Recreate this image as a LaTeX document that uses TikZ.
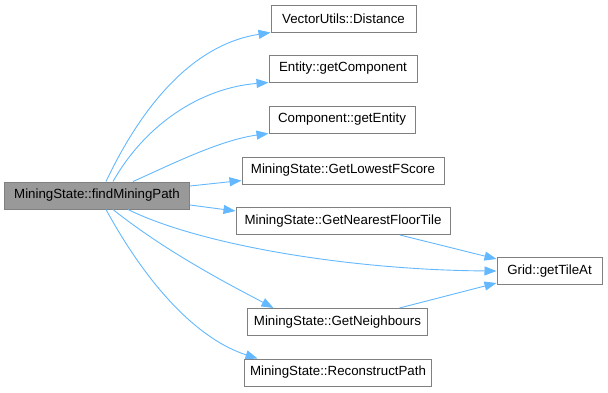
\documentclass[tikz,border=0pt]{standalone}
\usepackage{fontspec}
\setmainfont{Liberation Sans}
\usetikzlibrary{arrows.meta}

\definecolor{edgeblue}{HTML}{63B8FF}
\definecolor{boxline}{HTML}{808080}
\definecolor{mainfill}{HTML}{999999}

\begin{document}
\begin{tikzpicture}[x=1pt, y=-1pt,
    every node/.style={font=\fontsize{13.3}{16}\selectfont},
    fn/.style={draw=boxline, fill=white, line width=1pt, minimum height=27pt, inner xsep=6pt, inner ysep=0pt},
    edge/.style={draw=edgeblue, line width=0.9pt, -{Triangle[length=12pt,width=9pt]}}]
  \useasboundingbox (0,0) rectangle (608,392);

  % caller
  \node[fn, fill=mainfill, minimum width=185pt] (main) at (97,195.5) {MiningState::findMiningPath};

  % callees
  \node[fn, minimum width=145pt] (dist) at (343.5,18.5) {VectorUtils::Distance};
  \node[fn, minimum width=148pt] (comp) at (343,68.5) {Entity::getComponent};
  \node[fn, minimum width=146pt] (ent) at (342,119.5) {Component::getEntity};
  \node[fn, minimum width=202pt] (lowest) at (343,170.5) {MiningState::GetLowestFScore};
  \node[fn, minimum width=214pt] (nearest) at (343,221) {MiningState::GetNearestFloorTile};
  \node[fn, minimum width=105pt] (grid) at (549.5,271) {Grid::getTileAt};
  \node[fn, minimum width=173pt] (neigh) at (337.5,322) {MiningState::GetNeighbours};
  \node[fn, minimum width=186pt] (recon) at (338,372.5) {MiningState::ReconstructPath};

  % calls from findMiningPath
  \draw[edge] ([xshift=9]main.north) .. controls (140,110) and (190,45) .. (dist.south west);
  \draw[edge] ([xshift=16]main.north) .. controls (145,125) and (200,88) .. (comp.south west);
  \draw[edge] ([xshift=36]main.north) .. controls (170,165) and (220,140) .. (ent.south west);
  \draw[edge] ([yshift=9.5]main.east) -- ([yshift=-10]lowest.west);
  \draw[edge] ([yshift=-9.5]main.east) -- ([yshift=10]nearest.west);
  \draw[edge] ([xshift=31]main.south) .. controls (200,245) and (350,270) .. (grid.west);
  \draw[edge] ([xshift=16]main.south) .. controls (170,255) and (240,290) .. ([xshift=26]neigh.north west);
  \draw[edge] ([xshift=9]main.south) .. controls (150,290) and (200,340) .. ([xshift=14]recon.north west);

  % calls into the grid
  \draw[edge] ([xshift=57]nearest.south) -- ([yshift=12]grid.west);
  \draw[edge] ([xshift=62]neigh.north) -- ([yshift=-12]grid.west);
\end{tikzpicture}
\end{document}
